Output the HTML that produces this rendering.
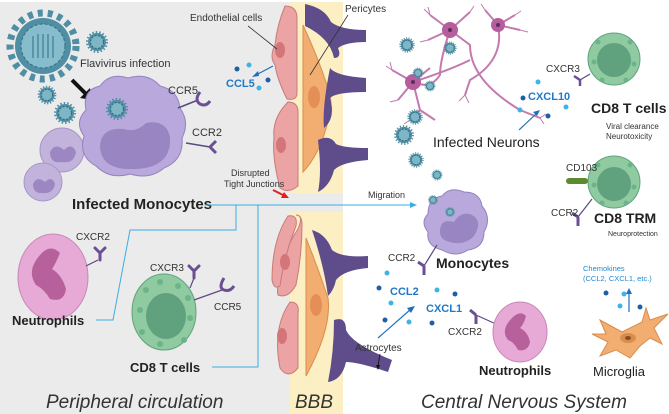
<!DOCTYPE html>
<html><head><meta charset="utf-8"><style>
html,body{margin:0;padding:0;background:#fff}
svg{display:block}
text{font-family:"Liberation Sans",Arial,sans-serif}
</style></head><body>
<svg width="669" height="414" viewBox="0 0 669 414" xmlns="http://www.w3.org/2000/svg">
<defs>
<g id="vir"><circle r="9" fill="#4f8ea3"/><circle r="6.5" fill="#7fb6c6"/><circle r="6.5" fill="none" stroke="#2f6f86" stroke-dasharray="2 1.5" stroke-width="1.2"/><circle r="10" fill="none" stroke="#4f8ea3" stroke-width="2" stroke-dasharray="1.5 2"/></g>
<g id="y"><path d="M0 0 L0 -7 M0 -7 L-5 -12 M0 -7 L5 -12" stroke="#6b4f94" stroke-width="3" fill="none" stroke-linecap="round"/></g>
</defs>
<rect width="669" height="414" fill="#fff"/>
<rect x="0" y="2" width="290" height="412" fill="#ebebeb"/>
<rect x="290" y="2" width="53" height="412" fill="#fbefc3"/>
<rect x="290" y="193" width="53" height="19" fill="#ebebeb"/>

<!-- big virus -->
<circle cx="43" cy="46" r="33" fill="none" stroke="#4f8ea3" stroke-width="7" stroke-dasharray="5 5"/>
<circle cx="43" cy="46" r="28" fill="#4f8ea3"/>
<circle cx="43" cy="46" r="22" fill="#86bccb"/>
<circle cx="43" cy="46" r="22" fill="none" stroke="#2f6f86" stroke-dasharray="3 2"/>
<path d="M33 58 V36 M38 58 V34 M43 58 V34 M48 58 V34 M53 58 V36" stroke="#2f6f86" stroke-width="1"/>
<use href="#vir" x="97" y="42"/>
<use href="#vir" x="47" y="95" transform="translate(47 95) scale(.85) translate(-47 -95)"/>
<use href="#vir" x="65" y="113"/>
<text x="80" y="67" font-size="11" fill="#333">Flavivirus infection</text>
<path d="M72 80 L86 94" stroke="#111" stroke-width="4"/><path d="M80 98 L92 100 L90 88 Z" fill="#111"/>

<!-- small monocytes -->
<circle cx="62" cy="150" r="22" fill="#c2b3dd" stroke="#a895c8"/>
<path d="M50 152 q5 -10 14 -2 q8 -8 12 2 q-2 12 -14 10 q-12 2 -12 -10z" fill="#9c87c2"/>
<circle cx="43" cy="182" r="19" fill="#c2b3dd" stroke="#a895c8"/>
<path d="M33 184 q4 -9 12 -2 q7 -7 10 2 q-2 10 -12 9 q-10 1 -10 -9z" fill="#9c87c2"/>
<!-- infected monocyte -->
<path d="M86 110 q-4 -20 14 -24 q10 -14 28 -8 q20 -6 32 8 q18 4 20 22 q10 14 2 30 q2 22 -18 30 q-14 12 -34 6 q-20 6 -34 -8 q-18 -10 -12 -30 q-10 -14 2 -26z" fill="#b8a8db" stroke="#9482bf"/>
<path d="M100 145 q2 -18 24 -16 q12 4 22 -6 q20 -4 24 14 q2 30 -34 32 q-36 2 -36 -24z" fill="#9985c1"/>
<use href="#vir" x="117" y="109"/>
<text x="168" y="94" font-size="11" fill="#333">CCR5</text>
<path d="M178 108 L198 100" stroke="#5a4a80" stroke-width="1.5"/>
<path d="M200 92 q-6 8 0 12 q6 3 10 -3" stroke="#6b4f94" stroke-width="3" fill="none"/>
<text x="192" y="136" font-size="11" fill="#333">CCR2</text>
<path d="M186 143 L210 147" stroke="#5a4a80" stroke-width="1.5"/>
<path d="M210 147 l6 -6 M210 147 l6 6" stroke="#6b4f94" stroke-width="3"/>
<text x="72" y="209" font-size="15" font-weight="bold" fill="#222">Infected Monocytes</text>

<!-- endothelial / pericyte / astrocyte top -->
<path d="M285 6 q12 0 12 12 v75 q0 8 -10 6 q-10 -20 -12 -34 q-6 -8 0 -20 q2 -20 10 -39z" fill="#eba3a3" stroke="#c97b7b"/>
<ellipse cx="280" cy="50" rx="5" ry="8" fill="#d4757a"/>
<path d="M288 102 q10 0 10 10 v74 q-10 8 -18 2 q-8 -30 -6 -50 q-2 -20 14 -36z" fill="#eba3a3" stroke="#c97b7b"/>
<ellipse cx="281" cy="145" rx="5" ry="8" fill="#d4757a"/>
<path d="M303 25 q14 30 24 60 q8 20 0 40 q-8 30 -24 47z" fill="#f2ad70" stroke="#d98d4d"/>
<ellipse cx="314" cy="97" rx="6" ry="11" fill="#e48f55"/>
<path d="M305 4 q20 4 26 18 q10 8 35 8 v12 q-20 0 -28 6 q4 10 -4 10 q-4 -20 -29 -32z" fill="#5e4d8a"/>
<path d="M330 68 q6 8 36 10 v14 q-30 0 -36 6 q6 20 -6 30 q-2 -20 6 -60z" fill="#5e4d8a"/>
<path d="M318 140 q12 -6 18 4 q8 4 32 4 v12 q-26 2 -34 10 q-4 16 -16 22 q4 -20 0 -52z" fill="#5e4d8a"/>
<text x="190" y="21" font-size="10" fill="#333">Endothelial cells</text>
<path d="M248 26 L277 49" stroke="#333" stroke-width="0.8"/>
<text x="345" y="12" font-size="10" fill="#333">Pericytes</text>
<path d="M348 15 L310 75" stroke="#333" stroke-width="0.8"/>
<circle cx="237" cy="69" r="2.5" fill="#1f5fa8"/><circle cx="249" cy="65" r="2.5" fill="#3fb3e6"/><circle cx="268" cy="80" r="2.5" fill="#1f5fa8"/><circle cx="259" cy="88" r="2.5" fill="#3fb3e6"/>
<path d="M273 66 L256 75" stroke="#1f6fc0" stroke-width="1.2"/><path d="M252 77 l6 -6 l1 5z" fill="#1f6fc0"/>
<text x="226" y="87" font-size="11" font-weight="bold" fill="#1f78c8">CCL5</text>
<text x="231" y="176" font-size="9" fill="#333">Disrupted</text>
<text x="224" y="187" font-size="9" fill="#333">Tight Junctions</text>
<path d="M273 190 L285 196" stroke="#e02020" stroke-width="2"/><path d="M289 198 l-8 0 l3 -6z" fill="#e02020"/>

<!-- blue connectors -->
<path d="M205 205 H412" stroke="#3aaee0" stroke-width="1"/><path d="M417 205 l-7 -3 v6z" fill="#3aaee0"/>
<text x="368" y="198" font-size="9" fill="#333">Migration</text>
<path d="M236 205 V230 H130 L113 320 H96" stroke="#3aaee0" fill="none"/>
<path d="M258 205 V367 H212" stroke="#3aaee0" fill="none"/>

<!-- neutrophil left -->
<ellipse cx="53" cy="277" rx="35" ry="43" fill="#e7a9d6" stroke="#c788b8"/>
<path d="M40 255 q10 -12 20 -2 q-4 10 -8 16 q10 6 14 20 q-2 14 -16 10 q-6 -10 -14 -14 q-10 -14 4 -30z" fill="#b7619c"/>
<path d="M86 266 L98 260" stroke="#5a4a80" stroke-width="1.2"/><use href="#y" x="100" y="260"/>
<text x="76" y="240" font-size="10" fill="#333">CXCR2</text>
<text x="12" y="325" font-size="13" font-weight="bold" fill="#222">Neutrophils</text>
<!-- CD8 left -->
<ellipse cx="164" cy="312" rx="32" ry="38" fill="#8fcaa1" stroke="#5ea47d"/>
<ellipse cx="166" cy="316" rx="20" ry="23" fill="#5fa27d"/>
<g fill="#6db38a"><circle cx="146" cy="290" r="3"/><circle cx="160" cy="282" r="3"/><circle cx="178" cy="286" r="3"/><circle cx="140" cy="310" r="3"/><circle cx="142" cy="332" r="3"/><circle cx="160" cy="344" r="3"/><circle cx="184" cy="340" r="3"/><circle cx="190" cy="318" r="3"/><circle cx="188" cy="298" r="3"/></g>
<path d="M190 288 L194 278" stroke="#5a4a80" stroke-width="1.2"/><use href="#y" x="194" y="278"/>
<text x="150" y="271" font-size="10" fill="#333">CXCR3</text>
<path d="M194 300 L222 290" stroke="#5a4a80" stroke-width="1.2"/>
<path d="M224 278 q-6 10 0 12 q6 2 10 -4" stroke="#6b4f94" stroke-width="3" fill="none"/>
<text x="214" y="310" font-size="10" fill="#333">CCR5</text>
<text x="130" y="372" font-size="13" font-weight="bold" fill="#222">CD8 T cells</text>

<!-- lower BBB -->
<path d="M296 215 q8 0 2 14 q-14 20 -16 44 q-6 14 -4 22 q10 4 18 -10 q6 -30 6 -60 q0 -10 -6 -10z" fill="#eba3a3" stroke="#c97b7b"/>
<path d="M288 216 q10 -2 8 10 q-12 30 -16 60 q-6 4 -8 -6 q0 -40 16 -64z" fill="#eba3a3" stroke="#c97b7b"/>
<ellipse cx="285" cy="262" rx="5" ry="8" fill="#d4757a"/>
<path d="M290 302 q10 0 8 12 v54 q-10 12 -18 0 q-8 -40 10 -66z" fill="#eba3a3" stroke="#c97b7b"/>
<ellipse cx="282" cy="336" rx="5" ry="8" fill="#d4757a"/>
<path d="M306 238 q12 30 22 60 q4 30 -22 78z" fill="#f2ad70" stroke="#d98d4d"/>
<ellipse cx="316" cy="305" rx="6" ry="11" fill="#e48f55"/>
<path d="M312 230 q14 4 20 20 q10 8 36 6 v12 q-24 2 -32 12 q-2 10 -8 16 q-4 -30 -16 -66z" fill="#5e4d8a"/>
<path d="M334 320 q12 -4 12 10 q6 14 46 30 l-4 12 q-30 -10 -42 -10 q-4 18 -18 20 q6 -30 6 -62z" fill="#5e4d8a"/>
<text x="355" y="351" font-size="10" fill="#333">Astrocytes</text>
<path d="M380 354 L378 366" stroke="#111" stroke-width="0.8"/><path d="M378 370 l-2 -5 h4z" fill="#111"/>

<!-- neurons -->
<g stroke="#c47aae" stroke-width="2" fill="none">
<path d="M450 30 L430 15 M450 30 L470 12 M450 30 L428 40 M450 30 L470 45 Q470 80 520 110 L540 118 M450 30 Q440 60 440 75 Q430 90 415 82"/>
<path d="M498 25 L485 10 M498 25 L515 15 M498 25 L520 30 M498 25 Q505 60 470 80 L465 95"/>
<path d="M413 82 L392 70 M413 82 L398 100 M413 82 L420 110 L410 120 M413 82 Q450 70 470 60 M413 82 L430 68 M420 110 L435 120"/>
</g>
<g stroke="#c47aae" stroke-width="1" fill="none">
<path d="M430 15 l-6 -6 M430 15 l-2 -8 M470 12 l4 -6 M428 40 l-8 2 M485 10 l-4 -6 M515 15 l6 -4 M520 30 l8 2 M392 70 l-6 -4 M392 70 l-2 -8 M398 100 l-8 2 M540 118 l6 -4 M540 118 l4 6 M465 95 l-6 6 M465 95 l4 8 M410 120 l-6 4"/>
</g>
<circle cx="450" cy="30" r="8" fill="#b55d9d"/><circle cx="450" cy="30" r="2" fill="#5a2f5a"/>
<circle cx="498" cy="25" r="7" fill="#b55d9d"/><circle cx="498" cy="25" r="2" fill="#5a2f5a"/>
<circle cx="413" cy="82" r="8" fill="#b55d9d"/><circle cx="413" cy="82" r="2" fill="#5a2f5a"/>
<use href="#vir" x="407" y="45" transform="translate(407 45) scale(.7) translate(-407 -45)"/>
<use href="#vir" x="450" y="48" transform="translate(450 48) scale(.6) translate(-450 -48)"/>
<use href="#vir" x="418" y="73" transform="translate(418 73) scale(.5) translate(-418 -73)"/>
<use href="#vir" x="430" y="86" transform="translate(430 86) scale(.5) translate(-430 -86)"/>
<use href="#vir" x="415" y="117" transform="translate(415 117) scale(.7) translate(-415 -117)"/>
<use href="#vir" x="404" y="135" transform="translate(404 135) scale(.9) translate(-404 -135)"/>
<use href="#vir" x="416" y="160" transform="translate(416 160) scale(.7) translate(-416 -160)"/>
<use href="#vir" x="437" y="175" transform="translate(437 175) scale(.5) translate(-437 -175)"/>
<text x="433" y="147" font-size="14" fill="#222">Infected Neurons</text>
<g><circle cx="538" cy="82" r="2.5" fill="#3fb3e6"/><circle cx="523" cy="98" r="2.5" fill="#1f5fa8"/><circle cx="520" cy="110" r="2.5" fill="#3fb3e6"/><circle cx="548" cy="116" r="2.5" fill="#1f5fa8"/><circle cx="566" cy="107" r="2.5" fill="#3fb3e6"/></g>
<text x="528" y="100" font-size="11" font-weight="bold" fill="#1f78c8">CXCL10</text>
<path d="M519 130 L537 113" stroke="#1f6fc0" stroke-width="1.2"/><path d="M540 110 l-7 2 l4 4z" fill="#1f6fc0"/>

<!-- CD8 T cells top right -->
<circle cx="614" cy="59" r="26" fill="#8fcaa1" stroke="#5ea47d"/>
<circle cx="614" cy="60" r="17" fill="#5fa27d"/>
<g fill="#6db38a"><circle cx="598" cy="42" r="2.5"/><circle cx="630" cy="42" r="2.5"/><circle cx="594" cy="62" r="2.5"/><circle cx="634" cy="64" r="2.5"/><circle cx="602" cy="80" r="2.5"/><circle cx="626" cy="80" r="2.5"/></g>
<path d="M590 74 L580 80" stroke="#5a4a80" stroke-width="1.2"/>
<path d="M580 80 l-6 -4 M580 80 v6" stroke="#6b4f94" stroke-width="2.5"/>
<text x="546" y="72" font-size="10" fill="#333">CXCR3</text>
<text x="591" y="113" font-size="14" font-weight="bold" fill="#222">CD8 T cells</text>
<text x="606" y="129" font-size="8" fill="#333">Viral clearance</text>
<text x="606" y="139" font-size="8" fill="#333">Neurotoxicity</text>
<circle cx="614" cy="182" r="26" fill="#8fcaa1" stroke="#5ea47d"/>
<circle cx="614" cy="184" r="17" fill="#5fa27d"/>
<g fill="#6db38a"><circle cx="598" cy="165" r="2.5"/><circle cx="630" cy="165" r="2.5"/><circle cx="594" cy="185" r="2.5"/><circle cx="634" cy="187" r="2.5"/><circle cx="602" cy="203" r="2.5"/><circle cx="626" cy="203" r="2.5"/></g>
<rect x="566" y="178" width="22" height="6" rx="3" fill="#5d8a2f"/>
<text x="566" y="171" font-size="10" fill="#333">CD103</text>
<path d="M592 199 L578 217" stroke="#5a4a80" stroke-width="1.2"/>
<path d="M578 217 l-6 -4 M578 217 v9" stroke="#6b4f94" stroke-width="3"/>
<text x="551" y="216" font-size="10" fill="#333">CCR2</text>
<text x="594" y="223" font-size="14" font-weight="bold" fill="#222">CD8 TRM</text>
<text x="608" y="236" font-size="7" fill="#333">Neuroprotection</text>

<!-- CNS monocyte -->
<path d="M428 214 q0 -16 14 -18 q8 -10 22 -4 q16 0 18 14 q10 12 2 26 q0 16 -16 18 q-12 8 -26 0 q-16 -4 -14 -18 q-8 -10 0 -18z" fill="#b8a8db" stroke="#9482bf"/>
<path d="M440 232 q0 -14 14 -10 q6 -10 16 -8 q14 6 4 22 q-10 10 -24 6 q-10 -2 -10 -10z" fill="#9985c1"/>
<use href="#vir" x="450" y="212" transform="translate(450 212) scale(.45) translate(-450 -212)"/>
<use href="#vir" x="433" y="200" transform="translate(433 200) scale(.45) translate(-433 -200)"/>
<path d="M437 245 L424 266" stroke="#5a4a80" stroke-width="1.2"/>
<path d="M424 266 l-6 -4 M424 266 v9" stroke="#6b4f94" stroke-width="3"/>
<text x="388" y="261" font-size="10" fill="#333">CCR2</text>
<text x="436" y="268" font-size="14" font-weight="bold" fill="#222">Monocytes</text>
<g><circle cx="387" cy="273" r="2.5" fill="#3fb3e6"/><circle cx="379" cy="288" r="2.5" fill="#1f5fa8"/><circle cx="391" cy="303" r="2.5" fill="#3fb3e6"/><circle cx="385" cy="320" r="2.5" fill="#1f5fa8"/><circle cx="409" cy="322" r="2.5" fill="#3fb3e6"/><circle cx="432" cy="323" r="2.5" fill="#1f5fa8"/><circle cx="437" cy="290" r="2.5" fill="#3fb3e6"/><circle cx="455" cy="294" r="2.5" fill="#1f5fa8"/></g>
<text x="390" y="295" font-size="11" font-weight="bold" fill="#1f78c8">CCL2</text>
<text x="426" y="312" font-size="11" font-weight="bold" fill="#1f78c8">CXCL1</text>
<path d="M378 338 L411 309" stroke="#1f6fc0" stroke-width="1.2"/><path d="M415 306 l-8 2 l4 5z" fill="#1f6fc0"/>
<path d="M496 324 L476 315" stroke="#5a4a80" stroke-width="1.2"/>
<path d="M476 315 l-6 -5 M476 315 v9" stroke="#6b4f94" stroke-width="3"/>
<text x="448" y="335" font-size="10" fill="#333">CXCR2</text>
<!-- neutrophil right -->
<ellipse cx="520" cy="332" rx="27" ry="30" fill="#e7a9d6" stroke="#c788b8"/>
<path d="M512 318 q8 -8 14 -2 q-2 8 -6 12 q8 4 10 14 q-2 10 -12 8 q-4 -8 -10 -10 q-8 -10 4 -22z" fill="#b7619c"/>
<text x="479" y="375" font-size="13" font-weight="bold" fill="#222">Neutrophils</text>
<!-- microglia -->
<path d="M600 320 l22 12 l20 -10 l4 -14 l4 12 l18 -6 l-14 14 l8 16 l-12 -6 l-10 8 l-10 12 l-14 -8 l-16 6 l8 -14 l-16 -8 l14 0z" fill="#f2ad70" stroke="#d98d4d"/>
<ellipse cx="628" cy="338" rx="8" ry="5" fill="#d98d4d"/><ellipse cx="628" cy="338" rx="3" ry="2" fill="#8a4a2a"/>
<text x="583" y="271" font-size="7.5" fill="#1f8ad0">Chemokines</text>
<text x="583" y="281" font-size="7.5" fill="#1f8ad0">(CCL2, CXCL1, etc.)</text>
<g><circle cx="606" cy="293" r="2.5" fill="#1f5fa8"/><circle cx="624" cy="294" r="2.5" fill="#3fb3e6"/><circle cx="620" cy="306" r="2.5" fill="#3fb3e6"/><circle cx="640" cy="307" r="2.5" fill="#1f5fa8"/></g>
<path d="M629 312 V293" stroke="#1f6fc0" stroke-width="1.2"/><path d="M629 288 l-3 6 h6z" fill="#1f6fc0"/>
<text x="593" y="376" font-size="13" fill="#222">Microglia</text>

<!-- bottom labels -->
<text x="46" y="408" font-size="19" font-style="italic" fill="#333">Peripheral circulation</text>
<text x="295" y="408" font-size="19" font-style="italic" fill="#333">BBB</text>
<text x="421" y="408" font-size="19" font-style="italic" fill="#333">Central Nervous System</text>
</svg>
</body></html>
